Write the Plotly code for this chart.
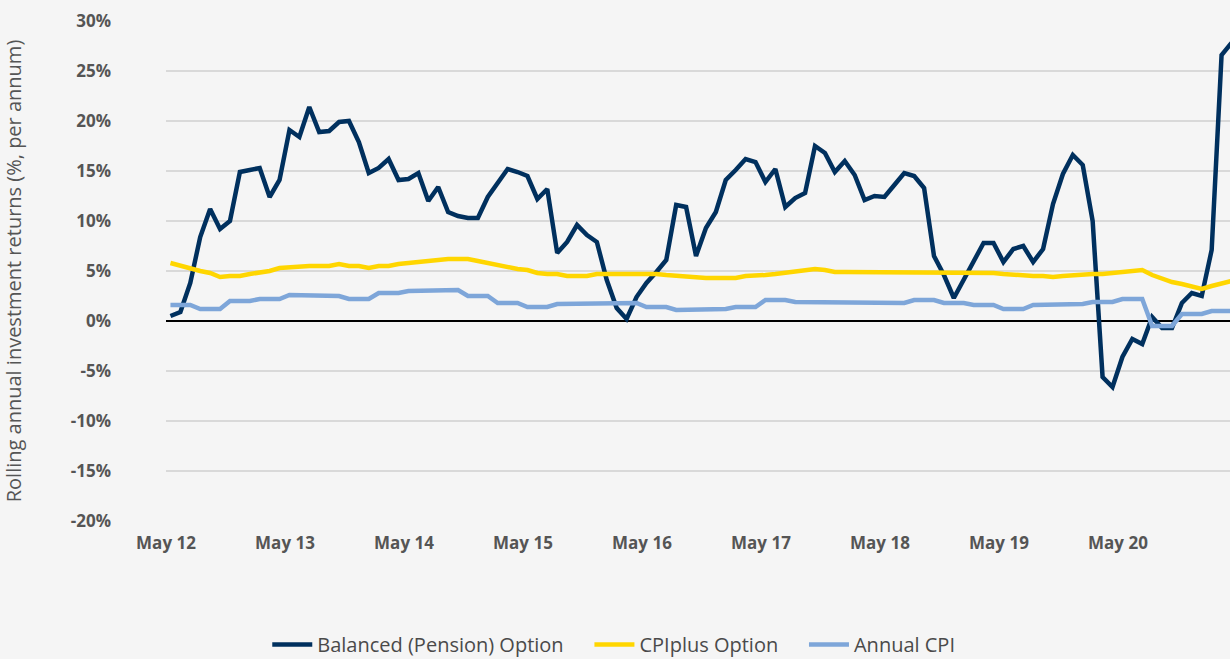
import plotly.graph_objects as go

# Month index 0 = May 2012 (data plotted just after each month tick)
balanced = [0.5, 0.9, 3.8, 8.4, 11.2, 9.2, 10.0, 14.9, 15.1, 15.3, 12.4, 14.1,
            19.1, 18.4, 21.4, 18.9, 19.0, 19.9, 20.0, 17.9, 14.8, 15.3, 16.2, 14.1,
            14.2, 14.8, 12.0, 13.4, 10.9, 10.5, 10.3, 10.3, 12.4, 13.8, 15.2, 14.9,
            14.5, 12.2, 13.2, 6.8, 7.9, 9.6, 8.6, 7.9, 4.1, 1.3, 0.2, 2.4,
            3.8, 4.9, 6.1, 11.6, 11.4, 6.5, 9.3, 10.9, 14.1, 15.1, 16.2, 15.9,
            13.9, 15.2, 11.4, 12.3, 12.8, 17.5, 16.8, 14.9, 16.0, 14.6, 12.1, 12.5,
            12.4, 13.6, 14.8, 14.5, 13.3, 6.5, 4.6, 2.3, 4.1, 6.1, 7.8, 7.8,
            5.9, 7.2, 7.5, 5.9, 7.2, 11.7, 14.7, 16.6, 15.6, 10.0, -5.6, -6.6,
            -3.6, -1.8, -2.3, 0.4, -0.7, -0.7, 1.8, 2.8, 2.5, 7.1, 26.6, 27.8]

cpiplus = [5.8, 5.5, 5.3, 5.0, 4.8, 4.4, 4.5, 4.5, 4.7, 4.8, 5.0, 5.3,
           5.4, 5.4, 5.5, 5.5, 5.5, 5.7, 5.5, 5.5, 5.3, 5.5, 5.5, 5.7,
           5.8, 5.9, 6.0, 6.2, 6.2, 6.2, 6.2, 6.0, 5.8, 5.5, 5.4, 5.2,
           5.1, 4.8, 4.7, 4.7, 4.5, 4.5, 4.5, 4.7, 4.7, 4.7, 4.7, 4.8,
           4.7, 4.7, 4.6, 4.5, 4.4, 4.3, 4.3, 4.3, 4.3, 4.3, 4.5, 4.5,
           4.6, 4.7, 4.8, 5.0, 5.0, 5.2, 5.1, 4.9, 4.9, 4.9, 4.9, 4.9,
           4.9, 4.9, 4.9, 4.9, 4.9, 4.9, 4.9, 4.9, 4.9, 4.9, 4.9, 4.8,
           4.7, 4.6, 4.5, 4.5, 4.5, 4.4, 4.5, 4.6, 4.6, 4.7, 4.7, 4.8,
           4.8, 4.9, 5.1, 4.6, 4.2, 3.9, 3.7, 3.5, 3.2, 3.5, 3.8, 4.0]

annual_cpi = [1.6, 1.6, 1.6, 1.2, 1.2, 1.2, 2.0, 2.0, 2.0, 2.2, 2.2, 2.2,
              2.6, 2.6, 2.6, 2.5, 2.5, 2.5, 2.2, 2.2, 2.2, 2.8, 2.8, 2.8,
              3.0, 3.0, 3.0, 3.1, 3.1, 3.1, 2.5, 2.5, 2.5, 1.8, 1.8, 1.8,
              1.4, 1.4, 1.4, 1.7, 1.7, 1.7, 1.7, 1.7, 1.7, 1.8, 1.8, 1.8,
              1.4, 1.4, 1.4, 1.1, 1.1, 1.1, 1.2, 1.2, 1.2, 1.4, 1.4, 1.4,
              2.1, 2.1, 2.1, 1.9, 1.9, 1.9, 1.8, 1.8, 1.8, 1.9, 1.9, 1.9,
              1.8, 1.8, 1.8, 2.1, 2.1, 2.1, 1.8, 1.8, 1.8, 1.6, 1.6, 1.6,
              1.2, 1.2, 1.2, 1.6, 1.6, 1.6, 1.7, 1.7, 1.7, 1.9, 1.9, 1.9,
              2.2, 2.2, 2.2, -0.5, -0.5, -0.5, 0.7, 0.7, 0.7, 1.0, 1.0, 1.0]

series_names = ["Balanced (Pension) Option", "CPIplus Option", "Annual CPI"]
tick_labels = ["May 12", "May 13", "May 14", "May 15", "May 16",
               "May 17", "May 18", "May 19", "May 20"]
y_ticks = [30, 25, 20, 15, 10, 5, 0, -5, -10, -15, -20]

x = [i + 0.45 for i in range(len(balanced))]
tick_vals = [12 * i for i in range(len(tick_labels))]
pad = "\u00a0" * 4

fig = go.Figure()
fig.add_trace(go.Scatter(x=x, y=balanced, mode="lines", name=series_names[0] + pad,
                         line=dict(color="#00305e", width=4.5)))
fig.add_trace(go.Scatter(x=x, y=cpiplus, mode="lines", name=series_names[1] + pad,
                         line=dict(color="#ffd600", width=4.5)))
fig.add_trace(go.Scatter(x=x, y=annual_cpi, mode="lines", name=series_names[2],
                         line=dict(color="#7ea6d9", width=4.5)))

gray = "#555555"
fig.update_layout(
    width=1230, height=659,
    margin=dict(l=166, r=0, t=21, b=138),
    paper_bgcolor="#f5f5f5", plot_bgcolor="#f5f5f5",
    font=dict(family="Open Sans, sans-serif", color=gray),
    showlegend=True,
    legend=dict(orientation="h", xref="container", yref="container",
                x=0.499, xanchor="center", y=0.022, yanchor="middle",
                font=dict(size=20, color="#4a4a4a"), bgcolor="rgba(0,0,0,0)",
                itemwidth=40, traceorder="normal"),
    xaxis=dict(range=[0, 107.3], tickvals=tick_vals, ticktext=tick_labels,
               showgrid=False, zeroline=False, showline=False,
               ticks="", tickfont=dict(size=17, color=gray, weight="bold"),
               ticklabelstandoff=10),
    yaxis=dict(range=[-20, 30], tickvals=y_ticks, ticktext=[f"{v}%" for v in y_ticks],
               showgrid=True, gridcolor="#d9d9d9", gridwidth=1.5,
               zeroline=True, zerolinecolor="#000000", zerolinewidth=2,
               showline=False, ticks="", tickfont=dict(size=17, color=gray, weight="bold"),
               ticklabelstandoff=54,
               title=dict(text="Rolling annual investment returns (%, per annum)",
                          font=dict(size=20, color=gray), standoff=45)),
)

fig.write_html("out.html", config={"displayModeBar": False},
               post_script="document.body.style.margin='0';")
